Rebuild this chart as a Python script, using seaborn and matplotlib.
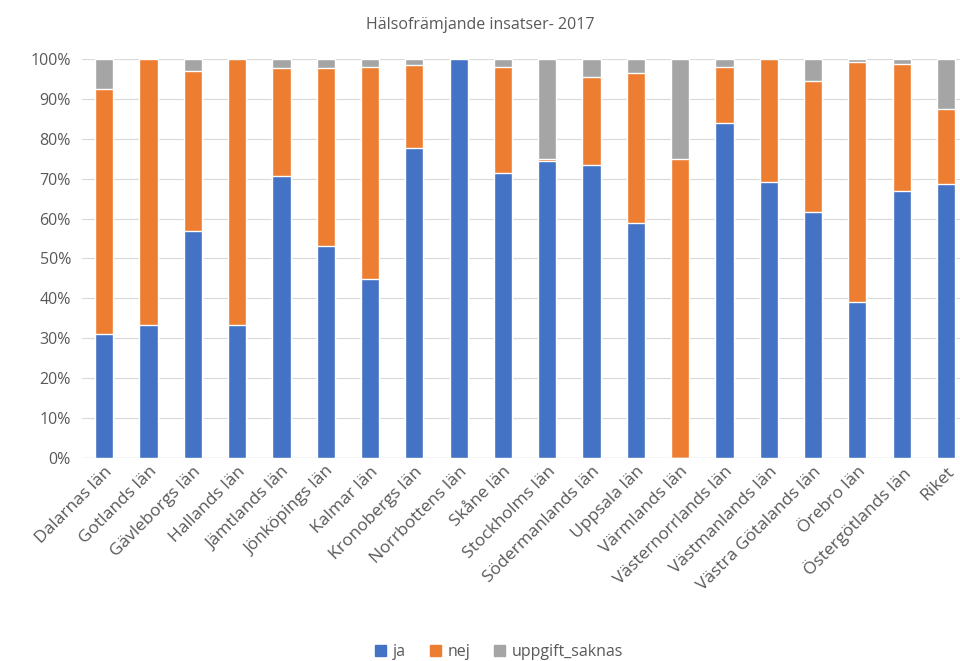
import pandas as pd
import seaborn as sns
import matplotlib.pyplot as plt
from matplotlib.patches import Patch

# Data (percent)
lan = ['Dalarnas län', 'Gotlands län', 'Gävleborgs län', 'Hallands län', 'Jämtlands län',
       'Jönköpings län', 'Kalmar län', 'Kronobergs län', 'Norrbottens län', 'Skåne län',
       'Stockholms län', 'Södermanlands län', 'Uppsala län', 'Värmlands län',
       'Västernorrlands län', 'Västmanlands län', 'Västra Götalands län', 'Örebro län',
       'Östergötlands län', 'Riket']
ja = [31.0, 33.3, 57.0, 33.3, 70.7, 53.1, 44.9, 77.7, 100.0, 71.4,
      74.4, 73.4, 58.9, 0.0, 84.0, 69.2, 61.7, 39.1, 66.9, 68.7]
nej = [61.5, 66.7, 40.0, 66.7, 27.0, 44.6, 53.1, 20.8, 0.0, 26.6,
       0.4, 22.1, 37.6, 75.0, 14.0, 30.8, 32.8, 60.1, 31.8, 18.8]
saknas = [7.5, 0.0, 3.0, 0.0, 2.3, 2.3, 2.0, 1.5, 0.0, 2.0,
          25.2, 4.5, 3.5, 25.0, 2.0, 0.0, 5.5, 0.8, 1.3, 12.5]

colors = {'ja': '#4472C4', 'nej': '#ED7D31', 'uppgift_saknas': '#A5A5A5'}

df = pd.DataFrame({'lan': lan, 'ja': ja, 'nej': nej, 'saknas': saknas})
df['top_nej'] = df['ja'] + df['nej']
df['top_saknas'] = df['top_nej'] + df['saknas']

sns.set_style('white')
plt.rcParams['font.family'] = ['Open Sans', 'DejaVu Sans']
txt = '#595959'

fig = plt.figure(figsize=(9.6, 6.61), dpi=100)
ax = fig.add_axes([0.0855, 0.307, 0.923, 0.604])

# stacked bars drawn back to front
sns.barplot(data=df, x='lan', y='top_saknas', color=colors['uppgift_saknas'], width=0.41,
            saturation=1, ax=ax, zorder=2)
sns.barplot(data=df, x='lan', y='top_nej', color=colors['nej'], width=0.41,
            saturation=1, ax=ax, zorder=3)
sns.barplot(data=df, x='lan', y='ja', color=colors['ja'], width=0.41,
            saturation=1, ax=ax, zorder=4)

ax.set_ylim(0, 100)
ax.set_xlim(-0.5, 19.5)
ax.set_yticks(range(0, 101, 10))
ax.set_yticklabels([f'{v}%' for v in range(0, 101, 10)], fontsize=11.5, color=txt)
ax.yaxis.grid(True, color='#D9D9D9', linewidth=0.8, zorder=0)
ax.set_axisbelow(True)
ax.set_xlabel('')
ax.set_ylabel('')
ax.tick_params(axis='both', length=0)
ax.tick_params(axis='y', pad=8)
ax.tick_params(axis='x', pad=4)
plt.setp(ax.get_xticklabels(), rotation=45, ha='right', rotation_mode='anchor',
         fontsize=12.5, color=txt)
for s in ax.spines.values():
    s.set_visible(False)
ax.axhline(0, color='#D9D9D9', linewidth=1, zorder=1)

fig.suptitle('Hälsofrämjande insatser- 2017', y=0.975, fontsize=11.5, color=txt)

handles = [Patch(color=colors[k]) for k in colors]
fig.legend(handles, list(colors.keys()), loc='lower center', bbox_to_anchor=(0.52, -0.02),
           ncol=3, frameon=False, fontsize=11.5, handlelength=0.7, handleheight=0.7,
           columnspacing=1.5, handletextpad=0.4, labelcolor=txt)

fig.savefig('out.png', dpi=100)
